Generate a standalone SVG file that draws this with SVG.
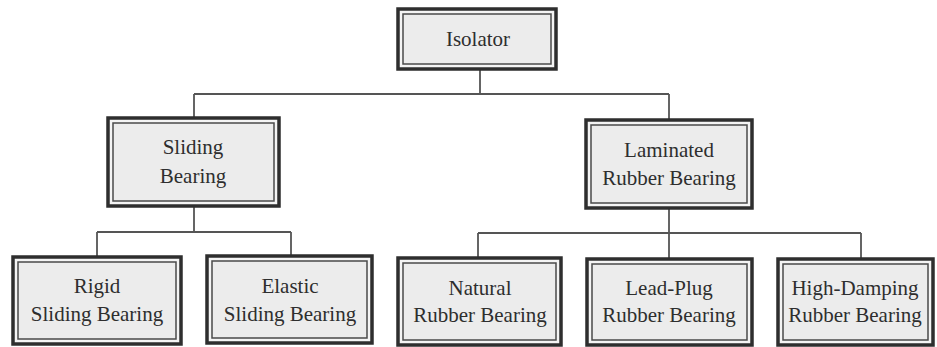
<svg xmlns="http://www.w3.org/2000/svg" width="937" height="347" viewBox="0 0 937 347">
<style>
.outer{fill:#f4f4f4;stroke:#2e2e2e;stroke-width:3.5}
.inner{fill:#ececec;stroke:#4a4a4a;stroke-width:1.5}
text{font-family:'Liberation Serif','Times New Roman',serif;font-size:21px;fill:#2e2e2e;text-anchor:middle}
.c{fill:none;stroke:#555;stroke-width:1.8}
</style>
<rect width="937" height="347" fill="#fff"/>
<g id="connectors">
<path class="c" d="M480 70V94M194 94H669M194 94V117M669 94V119"/>
<path class="c" d="M194 207V232M97 232H291M97 232V256M291 232V255"/>
<path class="c" d="M669 209V233M478 233H861M478 233V257M669 233V258M861 233V258"/>
</g>
<g id="isolator">
<rect class="outer" x="398" y="9" width="158" height="60"/>
<rect class="inner" x="403" y="14" width="148" height="50"/>
<text x="478" y="46">Isolator</text>
</g>
<g id="sliding">
<rect class="outer" x="108" y="118" width="171" height="88"/>
<rect class="inner" x="113" y="123" width="161" height="78"/>
<text x="193" y="154">Sliding</text>
<text x="193" y="183">Bearing</text>
</g>
<g id="laminated">
<rect class="outer" x="586" y="120" width="166" height="88"/>
<rect class="inner" x="591" y="125" width="156" height="78"/>
<text x="669" y="157">Laminated</text>
<text x="669" y="185">Rubber Bearing</text>
</g>
<g id="rigid">
<rect class="outer" x="13" y="257" width="168" height="87"/>
<rect class="inner" x="18" y="262" width="158" height="77"/>
<text x="97" y="293">Rigid</text>
<text x="97" y="321">Sliding Bearing</text>
</g>
<g id="elastic">
<rect class="outer" x="207" y="256" width="165" height="87"/>
<rect class="inner" x="212" y="261" width="155" height="77"/>
<text x="290" y="293">Elastic</text>
<text x="290" y="321">Sliding Bearing</text>
</g>
<g id="natural">
<rect class="outer" x="398" y="258" width="163" height="87"/>
<rect class="inner" x="403" y="263" width="153" height="77"/>
<text x="480" y="295">Natural</text>
<text x="480" y="322">Rubber Bearing</text>
</g>
<g id="leadplug">
<rect class="outer" x="587" y="259" width="165" height="86"/>
<rect class="inner" x="592" y="264" width="155" height="76"/>
<text x="669" y="295">Lead-Plug</text>
<text x="669" y="322">Rubber Bearing</text>
</g>
<g id="highdamping">
<rect class="outer" x="778" y="259" width="155" height="86"/>
<rect class="inner" x="783" y="264" width="145" height="76"/>
<text x="855" y="295">High-Damping</text>
<text x="855" y="322">Rubber Bearing</text>
</g>
</svg>
